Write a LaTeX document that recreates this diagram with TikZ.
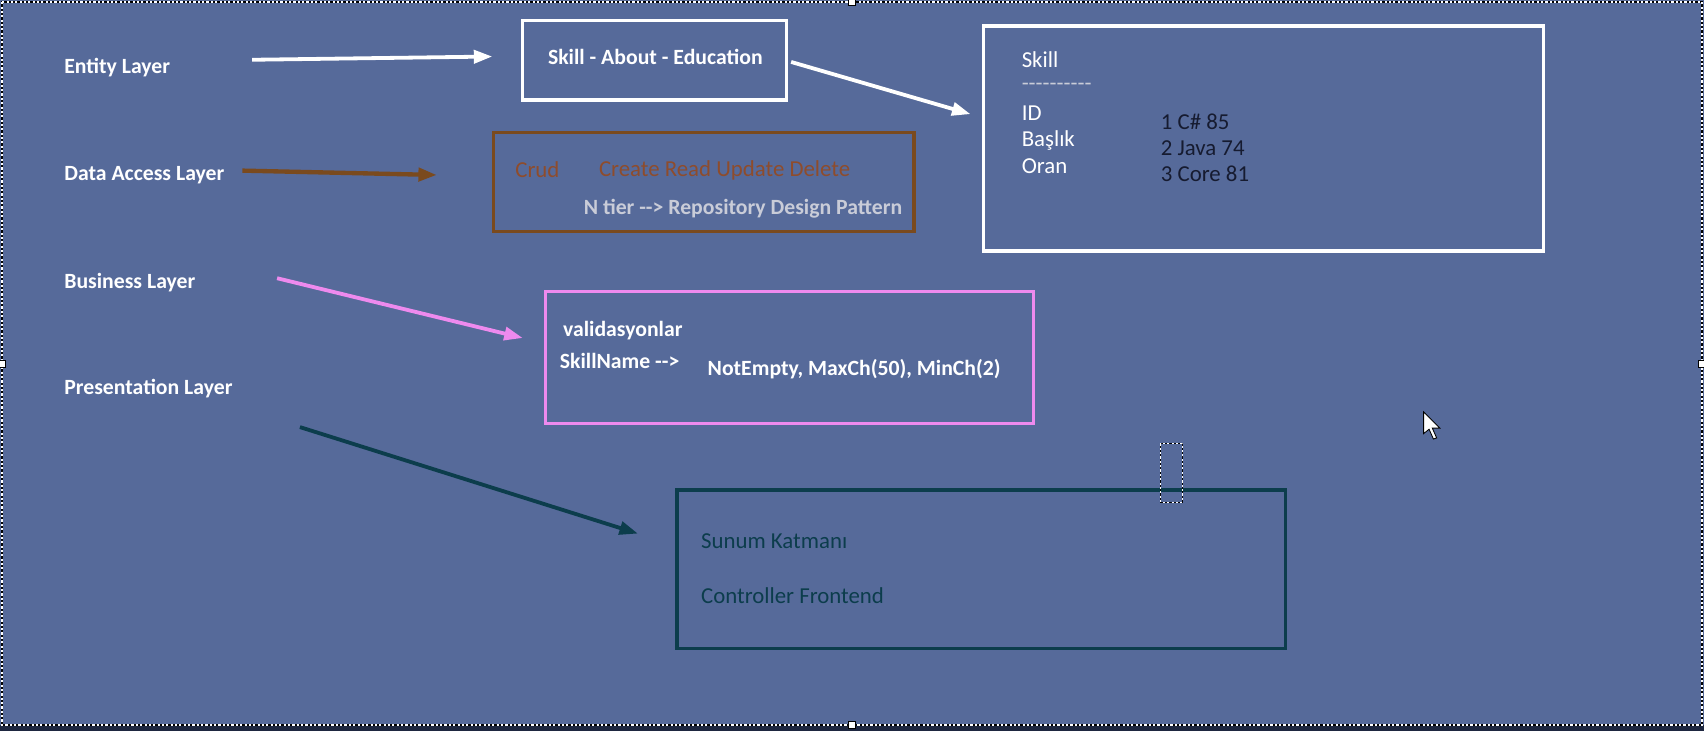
\documentclass[tikz,border=0pt]{standalone}
\usepackage{fontspec}
\setmainfont{Carlito}
\usetikzlibrary{arrows.meta}

\definecolor{bgblue}{HTML}{566A9A}
\definecolor{barnavy}{HTML}{1E2740}
\definecolor{dabrown}{HTML}{7A4A1E}
\definecolor{crudtext}{HTML}{8E4C2C}
\definecolor{bizpink}{HTML}{EE8AEE}
\definecolor{presteal}{HTML}{0C3D4C}
\definecolor{inktext}{HTML}{161B30}
\definecolor{paletext}{HTML}{C9CCD8}

\tikzset{
  lbl/.style={anchor=west, inner sep=0pt, text=white, font=\fontsize{20}{24}\selectfont\bfseries},
  txt/.style={anchor=west, inner sep=0pt, font=\fontsize{21}{25}\selectfont},
  layerbox/.style={draw=#1, line width=3pt, inner sep=0pt},
  layerarrow/.style={draw=#1, line width=3.5pt, -{Triangle[length=17pt,width=12pt]}},
}

\begin{document}
\begin{tikzpicture}[x=1pt,y=-1pt]
  \useasboundingbox (0,0) rectangle (1568,673);
  \fill[bgblue] (0,0) rectangle (1568,673);
  \fill[barnavy] (0,667) rectangle (1568,673);
  % selection frame
  \draw[black, line width=1.5pt] (2,2) rectangle (1566,667);
  \draw[white, line width=1.5pt, dash pattern=on 2pt off 2pt] (2,2) rectangle (1566,667);
  \foreach \x/\y in {784/2,784/667,2/335,1566/335}
    \draw[black, fill=white, line width=0.8pt] (\x-3,\y-3) rectangle (\x+3,\y+3);
  % Draw layer labels
  \foreach \y/\name/\val in {62/entity/Entity Layer,161/dal/Data Access Layer,260/bl/Business Layer,358/pl/Presentation Layer}
    \node[lbl] (\name) at (59,\y) {\val};
  % Draw boxes
  \node[layerbox=white, minimum width=243pt, minimum height=73pt] (sae) at (602.5,55.5) {};
  \node[lbl, anchor=center] (saetext) at (603,52) {Skill - About - Education};
  \node[layerbox=white, minimum width=515pt, minimum height=207pt] (skill) at (1162.5,127.5) {};
  \node[layerbox=dabrown, minimum width=387pt, minimum height=91pt] (crud) at (647.5,167.5) {};
  \node[layerbox=bizpink, minimum width=449pt, minimum height=122pt] (valid) at (726.5,329) {};
  \node[layerbox=presteal, minimum width=560pt, minimum height=146pt] (sunum) at (903,524) {};
  % Skill table
  \node[txt, text=white] (skname) at (940,55) {Skill};
  \node[txt, text=paletext, font=\fontsize{21}{25}\selectfont] (skline) at (940,80) {-{}-{}-{}-{}-{}-{}-{}-{}-{}-};
  \foreach \y/\name/\val in {104/fid/ID,129/fbaslik/Başlık,153/foran/Oran}
    \node[txt, text=white] (\name) at (940,\y) {\val};
  \foreach \y/\name/\val in {112/rowa/1 C\# 85,136/rowb/2 Java 74,160/rowc/3 Core 81}
    \node[txt, text=inktext] (\name) at (1068,\y) {\val};
  % Data access texts
  \node[txt, text=crudtext] (crudword) at (474,156) {Crud};
  \node[txt, text=crudtext] (crudlong) at (551,157) {Create Read Update Delete};
  \node[lbl, text=paletext] (ntier) at (537,192) {N tier -{}-> Repository Design Pattern};
  % Business texts
  \node[lbl] (validword) at (518,304) {validasyonlar};
  \node[lbl] (skillname) at (515,332) {SkillName -{}->};
  \node[lbl] (rules) at (651,340) {NotEmpty, MaxCh(50), MinCh(2)};
  % Presentation texts
  \node[txt, text=presteal] (sunumword) at (645,498) {Sunum Katmanı};
  \node[txt, text=presteal] (ctrl) at (645,548) {Controller Frontend};
  % Arrow ends
  \coordinate (entityS) at (232,55);
  \coordinate (entityE) at (453,52);
  \coordinate (saeS) at (728,57);
  \coordinate (saeE) at (893,105);
  \coordinate (dalS) at (223,157);
  \coordinate (dalE) at (402,161);
  \coordinate (blS) at (255,256);
  \coordinate (blE) at (481,311);
  \coordinate (plS) at (276,393);
  \coordinate (plE) at (587,491);
  % Draw arrows
  \draw[layerarrow=white] (entityS) -- (entityE);
  \draw[layerarrow=white] (saeS) -- (saeE);
  \draw[layerarrow=dabrown, line width=4pt] (dalS) -- (dalE);
  \draw[layerarrow=bizpink] (blS) -- (blE);
  \draw[layerarrow=presteal] (plS) -- (plE);
  % text box outline and pointer
  \draw[black, line width=1pt] (1068,408) rectangle (1088,462);
  \draw[white, line width=1pt, dash pattern=on 2pt off 2pt] (1068,408) rectangle (1088,462);
  \draw[black, fill=white, line width=0.8pt] (1310,379) -- (1310,399) -- (1315,395) -- (1319,404) -- (1322,403) -- (1318,394) -- (1325,394) -- cycle;
\end{tikzpicture}
\end{document}
